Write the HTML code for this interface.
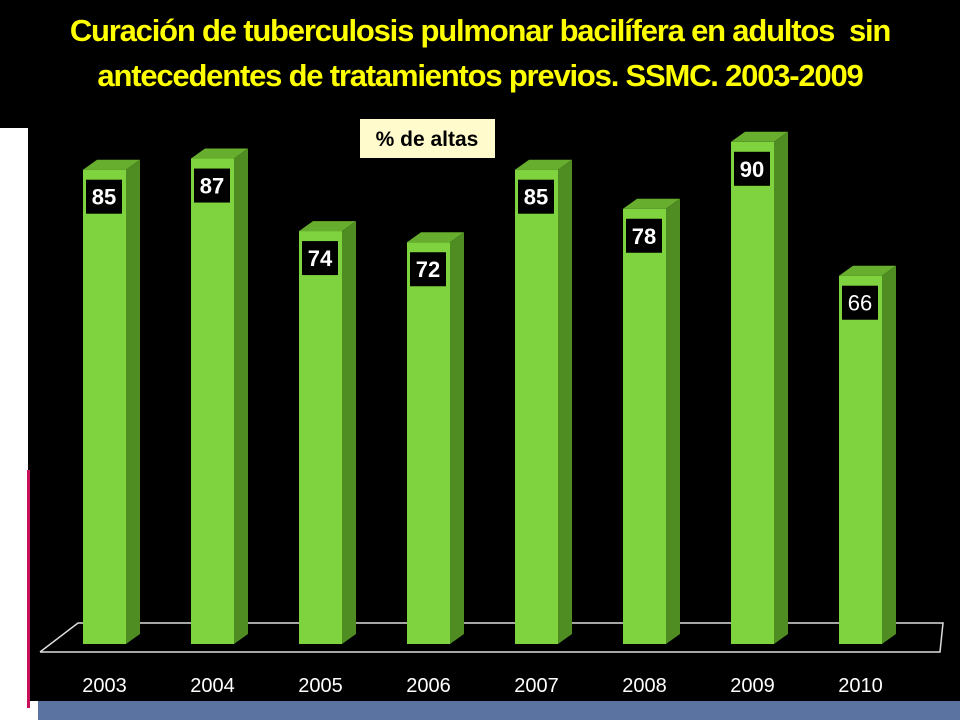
<!DOCTYPE html>
<html><head><meta charset="utf-8"><style>
body{margin:0;width:960px;height:720px;background:#fff;position:relative;overflow:hidden;font-family:"Liberation Sans",sans-serif}
</style></head><body>
<div style="position:absolute;left:0;top:0;width:960px;height:128px;background:#000"></div>
<div style="position:absolute;left:28px;top:128px;width:932px;height:573px;background:#000"></div>
<div style="position:absolute;left:27px;top:470px;width:3px;height:238px;background:#c8105a"></div>
<div style="position:absolute;left:38px;top:701px;width:922px;height:19px;background:#5a73a0"></div>
<div style="position:absolute;left:0;top:8px;width:960px;text-align:center;color:#ffff00;font-weight:bold;font-size:31px;line-height:45px;letter-spacing:-1.2px;white-space:nowrap">Curación de tuberculosis pulmonar bacilífera en adultos&nbsp; sin<br>antecedentes de tratamientos previos. SSMC. 2003-2009</div>
<svg width="960" height="720" style="position:absolute;left:0;top:0">
<g id="floor"></g><g id="bars"></g><g id="labels"></g>
<rect x="360" y="119" width="135" height="39" fill="#fffbcc"/>
<text x="427" y="146" text-anchor="middle" font-size="21" font-weight="bold" fill="#000" font-family="Liberation Sans, sans-serif">% de altas</text>
</svg>
<script>
const categories=["2003","2004","2005","2006","2007","2008","2009","2010"];
const values=[85,87,74,72,85,78,90,66];
const valueLabels=["85","87","74","72","85","78","90","66"];
const NS="http://www.w3.org/2000/svg";
function yScale(v){return 644-v*5.58;}
function xScale(i){return 83+i*108;}
function mk(tag,attrs,parent){const e=document.createElementNS(NS,tag);for(const k in attrs)e.setAttribute(k,attrs[k]);parent.appendChild(e);return e;}
const floor=document.getElementById('floor'),bars=document.getElementById('bars'),labels=document.getElementById('labels');
const fl=mk('polyline',{points:"40,652 940,652 943,623 78,623 40,652",fill:"none",stroke:"#ddd","stroke-width":"1.5"},floor);


const W=43,DX=14,DY=10,y0=yScale(0);
values.forEach((v,i)=>{
 const x=xScale(i),y=yScale(v);
 const g=mk('g',{},bars);
 
 
 mk('polygon',{points:`${x},${y} ${x+DX},${y-DY} ${x+W+DX},${y-DY} ${x+W},${y}`,fill:"#67ad2e"},g);
 mk('polygon',{points:`${x+W},${y} ${x+W+DX},${y-DY} ${x+W+DX},${y0-DY} ${x+W},${y0}`,fill:"#4f8c22"},g);
 mk('rect',{x:x,y:y,width:W,height:y0-y,fill:"#7ed33e"},g);
 const bx=x+3,by=y+10;
 const r=mk('rect',{x:bx,y:by,width:36,height:34,fill:"#000"},labels);
 
 
 const t=mk('text',{x:bx+18,y:by+25,"text-anchor":"middle","font-size":"22","font-weight":i==7?"normal":"bold",fill:"#fff","font-family":"Liberation Sans, sans-serif"},labels);
 t.textContent=valueLabels[i];
 
 
 const c=mk('text',{x:x+W/2,y:692,"text-anchor":"middle","font-size":"20",fill:"#fff","font-family":"Liberation Sans, sans-serif"},labels);
 c.textContent=categories[i];
 
 
});
</script>
</body></html>
